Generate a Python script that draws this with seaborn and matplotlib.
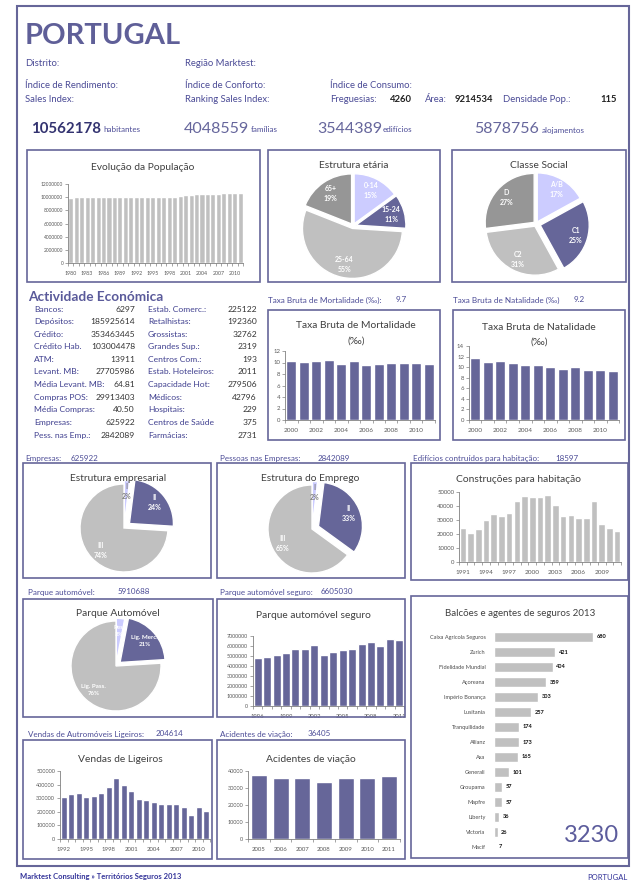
import numpy as np
import pandas as pd
import seaborn as sns
import matplotlib.pyplot as plt
from matplotlib.patches import Rectangle

sns.set_style("white")
plt.rcParams['font.family'] = ['Lato', 'DejaVu Sans']

# ---------------- data ----------------
pop_years = list(range(1980, 2012))
pop_values = [9850000, 10000000, 10000000, 10000000, 10000000, 10000000, 10000000, 10000000,
              10000000, 10000000, 10000000, 10000000, 10000000, 10000000, 10000000, 10000000,
              10000000, 10000000, 10000000, 10000000, 10250000, 10350000, 10380000, 10500000,
              10520000, 10540000, 10550000, 10550000, 10560000, 10560000, 10560000, 10560000]

age_labels = ["0-14", "15-24", "25-64", "65+"]
age_share = [15, 11, 55, 19]

class_labels = ["A/B", "C1", "C2", "D"]
class_share = [17, 25, 31, 27]

rate_years = list(range(2000, 2012))
mort_values = [10.3, 10.1, 10.3, 10.5, 9.7, 10.3, 9.6, 9.7, 10.0, 10.0, 10.0, 9.7]
nat_values = [11.8, 11.0, 11.1, 10.7, 10.5, 10.5, 10.0, 9.7, 10.0, 9.4, 9.5, 9.3]

emp_labels = ["I", "II", "III"]
emp_share = [2, 24, 74]
job_labels = ["I", "II", "III"]
job_share = [2, 33, 65]

build_years = list(range(1991, 2012))
build_values = [24500, 21000, 23500, 29800, 34400, 33000, 35000, 43700, 47400, 46600, 46600,
                48000, 40600, 33000, 33600, 31200, 31200, 43700, 27400, 24500, 22000]

car_labels = ["Pes.", "Lig. Merc.", "Lig. Pass."]
car_share = [3, 21, 76]

ins_years = list(range(1996, 2012))
ins_values = [4800000, 4900000, 5070000, 5270000, 5730000, 5730000, 6130000, 5130000,
              5400000, 5600000, 5730000, 6230000, 6430000, 6030000, 6730000, 6600000]

sales_years = list(range(1992, 2012))
sales_values = [307000, 334000, 341000, 307000, 317000, 341000, 380000, 451000, 395000, 356000,
                293000, 288000, 273000, 259000, 259000, 259000, 232000, 176000, 232000, 207000]

acc_years = list(range(2005, 2012))
acc_values = [37600, 35800, 35800, 33800, 35800, 35700, 36800]

branch_names = ["Caixa Agrícola Seguros", "Zurich", "Fidelidade Mundial", "Açoreana",
                "Império Bonança", "Lusitania", "Tranquilidade", "Allianz", "Axa", "Generali",
                "Groupama", "Mapfre", "Liberty", "Victoria", "Macif"]
branch_values = [680, 421, 404, 359, 303, 257, 174, 173, 165, 101, 57, 57, 36, 26, 7]

econ_left = [("Bancos:", "6297"), ("Depósitos:", "185925614"), ("Crédito:", "353463445"),
             ("Crédito Hab.", "103004478"), ("ATM:", "13911"), ("Levant. MB:", "27705986"),
             ("Média Levant. MB:", "64.81"), ("Compras POS:", "29913403"),
             ("Média Compras:", "40.50"), ("Empresas:", "625922"), ("Pess. nas Emp.:", "2842089")]
econ_right = [("Estab. Comerc.:", "225122"), ("Retalhistas:", "192360"), ("Grossistas:", "32762"),
              ("Grandes Sup.:", "2319"), ("Centros Com.:", "193"), ("Estab. Hoteleiros:", "2011"),
              ("Capacidade Hot:", "279506"), ("Médicos:", "42796"), ("Hospitais:", "229"),
              ("Centros de Saúde", "375"), ("Farmácias:", "2731")]

# ---------------- style ----------------
PURPLE = "#666699"
LAV = "#CCCCFF"
LGRAY = "#C0C0C0"
DGRAY = "#969696"
HEAD = "#4B4B96"
TITLE = "#404040"
TICK = "#595959"

W, H = 634, 881
fig = plt.figure(figsize=(W / 100, H / 100), dpi=100)
fig.patch.set_facecolor("white")


def axes_px(x0, y0, x1, y1):
    return fig.add_axes([x0 / W, 1 - y1 / H, (x1 - x0) / W, (y1 - y0) / H])


def txt(x, y, s, **kw):
    kw.setdefault("va", "center")
    fig.text(x / W, 1 - y / H, s, **kw)


def box(x0, y0, x1, y1, lw=1.2):
    fig.add_artist(Rectangle((x0 / W, 1 - y1 / H), (x1 - x0) / W, (y1 - y0) / H,
                             transform=fig.transFigure, fill=False, edgecolor=PURPLE, linewidth=lw))


def column_chart(rect, years, values, color, ymax, ystep, every, width, fs=4.6):
    ax = axes_px(*rect)
    sns.barplot(x=years, y=values, color=color, width=width, saturation=1, ax=ax)
    n = len(years)
    ax.set_xlim(-0.5, n - 0.5)
    ax.set_ylim(0, ymax)
    yt = np.arange(0, ymax + ystep / 2, ystep)
    ax.set_yticks(yt)
    ax.set_yticklabels([f"{v:g}" if v < 100 else f"{int(v)}" for v in yt])
    ax.set_xticks(range(0, n, every))
    ax.set_xticklabels([str(years[i]) for i in range(0, n, every)])
    ax.set_xticks(np.arange(-0.5, n, 1), minor=True)
    ax.tick_params(axis="x", which="major", bottom=False, labelsize=fs, colors=TICK, pad=2)
    ax.tick_params(axis="x", which="minor", bottom=True, length=2.2, width=0.5, color="#808080")
    ax.tick_params(axis="y", left=True, length=2, width=0.5, color="#808080",
                   labelsize=fs - 0.3, labelcolor=TICK, pad=1.5)
    for s in ["top", "right"]:
        ax.spines[s].set_visible(False)
    for s in ["left", "bottom"]:
        ax.spines[s].set_color("#808080")
        ax.spines[s].set_linewidth(0.6)
    ax.set_xlabel("")
    ax.set_ylabel("")
    ax.patch.set_alpha(0)
    return ax


def pie_chart(cx, cy, r, shares, labels, colors, explode, tcolors, ldist, half=62, fs=5.0):
    ax = axes_px(cx - half, cy - half, cx + half, cy + half)
    wedges, texts = ax.pie(shares, colors=colors, startangle=90, counterclock=False,
                           explode=explode, labels=[f"{l}\n{s}%" for l, s in zip(labels, shares)],
                           labeldistance=ldist,
                           textprops=dict(fontsize=fs, fontweight="bold", linespacing=1.5),
                           wedgeprops=dict(edgecolor="white", linewidth=1.0))
    for t, c in zip(texts, tcolors):
        t.set_ha("center")
        t.set_va("center")
        t.set_color(c)
    lim = half / r
    ax.set_xlim(-lim, lim)
    ax.set_ylim(-lim, lim)
    ax.patch.set_alpha(0)
    return ax


# ---------------- outer frame & header ----------------
box(17, 6, 629, 866, lw=1.5)

txt(25, 36, "PORTUGAL", fontsize=21, fontweight="bold", color="#5F5F98")

hs = 6.8
txt(25, 64, "Distrito:", fontsize=hs, color=HEAD)
txt(185, 64, "Região Marktest:", fontsize=hs, color=HEAD)
txt(25, 85, "Índice de Rendimento:", fontsize=hs, color=HEAD)
txt(185, 85, "Índice de Conforto:", fontsize=hs, color=HEAD)
txt(330, 85, "Índice de Consumo:", fontsize=hs, color=HEAD)
txt(25, 100, "Sales Index:", fontsize=hs, color=HEAD)
txt(185, 100, "Ranking Sales Index:", fontsize=hs, color=HEAD)
txt(330, 100, "Freguesias:", fontsize=hs, color=HEAD)
txt(412, 100, "4260", fontsize=hs, color="#222222", fontweight="bold", ha="right")
txt(425, 100, "Área:", fontsize=hs, color=HEAD)
txt(493, 100, "9214534", fontsize=hs, color="#222222", fontweight="bold", ha="right")
txt(503, 100, "Densidade Pop.:", fontsize=hs, color=HEAD)
txt(617, 100, "115", fontsize=hs, color="#222222", fontweight="bold", ha="right")

txt(31, 129, "10562178", fontsize=10.8, fontweight="bold", color="#333370")
txt(103, 130, "habitantes", fontsize=5.8, color=HEAD)
txt(184, 129, "4048559", fontsize=11.5, color="#66669C")
txt(251, 130, "famílias", fontsize=5.8, color=HEAD)
txt(317, 129, "3544389", fontsize=11.5, color="#66669C")
txt(383, 130, "edifícios", fontsize=5.8, color=HEAD)
txt(474, 129, "5878756", fontsize=11.5, color="#66669C")
txt(542, 130, "alojamentos", fontsize=5.8, color=HEAD)

# ---------------- row 1 ----------------
box(27, 150, 260, 282)
txt(143, 167, "Evolução da População", fontsize=7.4, color=TITLE, ha="center")
column_chart((68, 184, 243, 263), pop_years, pop_values, LGRAY, 12000000, 2000000, 3, 0.93, fs=3.8)

box(268, 150, 440, 282)
txt(354, 166, "Estrutura etária", fontsize=7.4, color=TITLE, ha="center")
pie_chart(353, 226, 50, age_share, age_labels, [LAV, PURPLE, LGRAY, DGRAY],
          [0.05, 0.06, 0.05, 0.05], ["white"] * 4, 0.74)

box(452, 150, 626, 282)
txt(539, 166, "Classe Social", fontsize=7.4, color=TITLE, ha="center")
pie_chart(536, 224, 49, class_share, class_labels, [LAV, PURPLE, LGRAY, DGRAY],
          [0.05, 0.09, 0.05, 0.05], ["white"] * 4, 0.76)

# ---------------- row 2 ----------------
txt(28, 297, "Actividade Económica", fontsize=9.8, fontweight="bold", color="#5A5A9A")
for i, ((l1, v1), (l2, v2)) in enumerate(zip(econ_left, econ_right)):
    y = 309 + i * 12.6
    txt(34, y, l1, fontsize=6.1, color="#3F3F8F")
    txt(135, y, v1, fontsize=6.1, color="#333333", ha="right")
    txt(148, y, l2, fontsize=6.1, color="#3F3F8F")
    txt(257, y, v2, fontsize=6.1, color="#333333", ha="right")

txt(268, 300, "Taxa Bruta de Mortalidade (‰):", fontsize=5.9, color=HEAD)
txt(396, 300, "9.7", fontsize=5.9, color=HEAD)
box(268, 310, 440, 440)
txt(356, 325, "Taxa Bruta de Mortalidade", fontsize=7.4, color=TITLE, ha="center")
txt(356, 341, "(‰)", fontsize=7.4, color=TITLE, ha="center")
column_chart((285, 351, 435, 420), rate_years, mort_values, PURPLE, 12, 2, 2, 0.8)

txt(453, 300, "Taxa Bruta de Natalidade (‰)", fontsize=5.9, color=HEAD)
txt(574, 300, "9.2", fontsize=5.9, color=HEAD)
box(453, 310, 625, 440)
txt(539, 328, "Taxa Bruta de Natalidade", fontsize=7.4, color=TITLE, ha="center")
txt(539, 342, "(‰)", fontsize=7.4, color=TITLE, ha="center")
column_chart((469, 346, 619, 420), rate_years, nat_values, PURPLE, 14, 2, 2, 0.8)

# ---------------- row 3 ----------------
ls = 5.8
txt(25, 458, "Empresas:", fontsize=ls, color=HEAD)
txt(71, 458, "625922", fontsize=ls, color=HEAD)
box(23, 463, 211, 578)
txt(118, 478, "Estrutura empresarial", fontsize=7.4, color=TITLE, ha="center")
pie_chart(124, 528, 44, emp_share, emp_labels, [LAV, PURPLE, LGRAY],
          [0.08, 0.16, 0.0], ["#7F7F7F", "white", "white"], 0.74)

txt(220, 458, "Pessoas nas Empresas:", fontsize=ls, color=HEAD)
txt(318, 458, "2842089", fontsize=ls, color=HEAD)
box(217, 463, 405, 578)
txt(310, 478, "Estrutura do Emprego", fontsize=7.4, color=TITLE, ha="center")
pie_chart(312, 529, 44, job_share, job_labels, [LAV, PURPLE, LGRAY],
          [0.08, 0.16, 0.0], ["#7F7F7F", "white", "white"], 0.74)

txt(413, 458, "Edifícios contruídos para habitação:", fontsize=ls, color=HEAD)
txt(555, 458, "18597", fontsize=ls, color=HEAD)
box(411, 463, 628, 580)
txt(518, 480, "Construções para habitação", fontsize=7.4, color=TITLE, ha="center")
column_chart((459, 492, 621, 562), build_years, build_values, LGRAY, 50000, 10000, 3, 0.86)

# ---------------- row 4 ----------------
txt(28, 592, "Parque automóvel:", fontsize=ls, color=HEAD)
txt(118, 592, "5910688", fontsize=ls, color=HEAD)
box(23, 599, 213, 717)
txt(118, 613, "Parque Automóvel", fontsize=7.4, color=TITLE, ha="center")
pie_chart(116, 666, 45, car_share, car_labels, [LAV, PURPLE, LGRAY],
          [0.06, 0.12, 0.0], ["white", "white", "white"], 0.72, fs=4.4)

txt(220, 592, "Parque automóvel seguro:", fontsize=ls, color=HEAD)
txt(321, 592, "6605030", fontsize=ls, color=HEAD)
box(217, 599, 405, 717)
txt(313, 616, "Parque automóvel seguro", fontsize=7.4, color=TITLE, ha="center")
column_chart((253, 636, 404, 706), ins_years, ins_values, PURPLE, 7000000, 1000000, 3, 0.85, fs=4.2)

# ---------------- balcões ----------------
box(411, 596, 628, 858)
txt(520, 613, "Balcões e agentes de seguros 2013", fontsize=7.0, color=TITLE, ha="center")
ax = axes_px(494, 629.5, 620, 854.5)
sns.barplot(x=branch_values, y=branch_names, color=LGRAY, width=0.7, saturation=1, orient="h", ax=ax)
ax.set_xlim(0, 865)
for i, v in enumerate(branch_values):
    ax.annotate(str(v), (v, i), xytext=(2.5, 0), textcoords="offset points",
                va="center", ha="left", fontsize=4.1, fontweight="bold", color="#111111")
ax.set_xticks([])
ax.tick_params(axis="y", left=False, labelsize=4.1, labelcolor="#4D4D4D", pad=2.5)
sns.despine(ax=ax, left=True, bottom=True)
ax.set_xlabel("")
ax.set_ylabel("")
ax.patch.set_alpha(0)
txt(619, 835, "3230", fontsize=17, color="#5C5C9C", ha="right")

# ---------------- row 5 ----------------
txt(28, 734, "Vendas de Autromóveis Ligeiros:", fontsize=ls, color=HEAD)
txt(156, 734, "204614", fontsize=ls, color=HEAD)
box(23, 740, 212, 859)
txt(120, 759, "Vendas de Ligeiros", fontsize=7.4, color=TITLE, ha="center")
column_chart((60, 771, 210, 839), sales_years, sales_values, PURPLE, 500000, 100000, 3, 0.85, fs=4.3)

txt(220, 734, "Acidentes de viação:", fontsize=ls, color=HEAD)
txt(308, 734, "36405", fontsize=ls, color=HEAD)
box(217, 740, 405, 859)
txt(311, 759, "Acidentes de viação", fontsize=7.4, color=TITLE, ha="center")
column_chart((248, 771, 400, 839), acc_years, acc_values, PURPLE, 40000, 10000, 1, 0.74, fs=4.3)

# ---------------- footer ----------------
txt(20, 877, "Marktest Consulting » Territórios Seguros 2013", fontsize=5.5,
    fontweight="bold", color="#333399")
txt(628, 877, "PORTUGAL", fontsize=5.5, color="#333399", ha="right")

fig.savefig("out.png", dpi=100, facecolor="white")
